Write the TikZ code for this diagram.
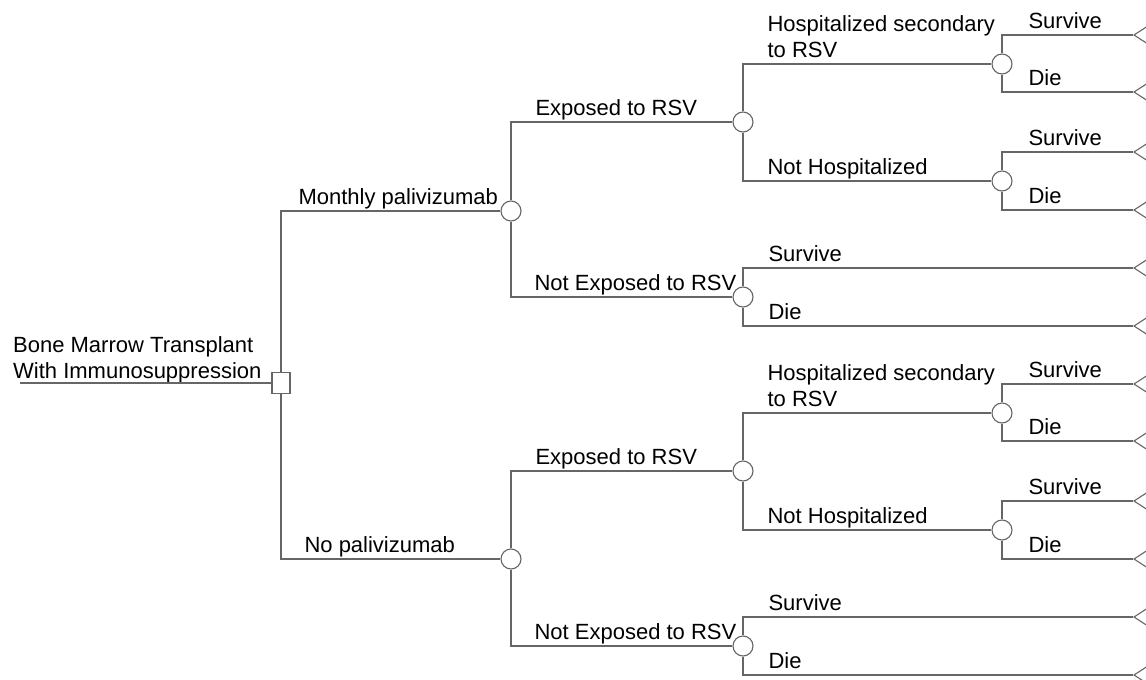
\documentclass[tikz,border=0pt]{standalone}
\usepackage{fontspec}
\setmainfont{Liberation Sans}
\usepackage{tikz}
\usetikzlibrary{shapes.geometric}

\tikzset{
    decision/.style={draw=black!60, fill=white, line width=1.1pt, rectangle, minimum width=18pt, minimum height=21pt, inner sep=0},
    chance/.style={draw=black!60, fill=white, line width=1.1pt, circle, minimum size=20pt, inner sep=0},
    terminal/.style={draw=black!60, fill=white, line width=1.1pt, isosceles triangle, isosceles triangle apex angle=66, shape border rotate=180, minimum height=26pt, inner sep=0, anchor=apex},
    branch/.style={draw=black!60, line width=1.1pt},
    lbl/.style={pos=0.5, anchor=base west, inner sep=0, xshift=#1, yshift=7pt, align=left, font=\fontsize{22}{26}\selectfont},
    lbl/.default=24pt
}

\begin{document}
\begin{tikzpicture}[x=1pt, y=-1pt]
    \useasboundingbox (0,0) rectangle (1146,680);
    \clip (0,0) rectangle (1146,680);

    % Decision node
    \node[decision] (bmt) at (281,383) {};
    \coordinate (in) at (20,383);
    \node[anchor=base west, align=left, inner sep=0, font=\fontsize{22}{26}\selectfont] (bmtlabel) at (13,378) {Bone Marrow Transplant\\With Immunosuppression};

    % Chance nodes: monthly palivizumab
    \node[chance] (mp) at (511,211) {};
    \node[chance] (mpexp) at (743,122) {};
    \node[chance] (mpnoexp) at (743,297) {};
    \node[chance] (mphosp) at (1002,64) {};
    \node[chance] (mpnohosp) at (1002,181) {};

    % Chance nodes: no palivizumab
    \node[chance] (np) at (511,559) {};
    \node[chance] (npexp) at (743,471) {};
    \node[chance] (npnoexp) at (743,646) {};
    \node[chance] (nphosp) at (1002,413) {};
    \node[chance] (npnohosp) at (1002,530) {};

    % Terminal nodes
    \node[terminal] (mphosps) at (1133,35) {};
    \node[terminal] (mphospd) at (1133,92) {};
    \node[terminal] (mpnohosps) at (1133,152) {};
    \node[terminal] (mpnohospd) at (1133,210) {};
    \node[terminal] (mpnoexps) at (1133,268) {};
    \node[terminal] (mpnoexpd) at (1133,326) {};
    \node[terminal] (nphosps) at (1133,384) {};
    \node[terminal] (nphospd) at (1133,441) {};
    \node[terminal] (npnohosps) at (1133,501) {};
    \node[terminal] (npnohospd) at (1133,559) {};
    \node[terminal] (npnoexps) at (1133,617) {};
    \node[terminal] (npnoexpd) at (1133,675) {};

    % Strategy branches
    \draw[branch] (in) -- (bmt);
    \draw[branch] (bmt) |- (mp) node[lbl=17pt] (lmp) {Monthly palivizumab};
    \draw[branch] (bmt) |- (np) node[lbl=23pt] (lnp) {No palivizumab};

    % Exposure branches
    \draw[branch] (mp) |- (mpexp) node[lbl] (lmpexp) {Exposed to RSV};
    \draw[branch] (mp) |- (mpnoexp) node[lbl=23pt] (lmpnoexp) {Not Exposed to RSV};
    \draw[branch] (np) |- (npexp) node[lbl] (lnpexp) {Exposed to RSV};
    \draw[branch] (np) |- (npnoexp) node[lbl=23pt] (lnpnoexp) {Not Exposed to RSV};

    % Hospitalization branches
    \draw[branch] (mpexp) |- (mphosp) node[lbl] (lmphosp) {Hospitalized secondary\\to RSV};
    \draw[branch] (mpexp) |- (mpnohosp) node[lbl] (lmpnohosp) {Not Hospitalized};
    \draw[branch] (npexp) |- (nphosp) node[lbl] (lnphosp) {Hospitalized secondary\\to RSV};
    \draw[branch] (npexp) |- (npnohosp) node[lbl] (lnpnohosp) {Not Hospitalized};

    % Outcomes
    \draw[branch] (mphosp) |- (mphosps) node[lbl=26pt] (lmphosps) {Survive};
    \draw[branch] (mphosp) |- (mphospd) node[lbl=26pt] (lmphospd) {Die};
    \draw[branch] (mpnohosp) |- (mpnohosps) node[lbl=26pt] (lmpnohosps) {Survive};
    \draw[branch] (mpnohosp) |- (mpnohospd) node[lbl=26pt] (lmpnohospd) {Die};
    \draw[branch] (mpnoexp) |- (mpnoexps) node[lbl=25pt] (lmpnoexps) {Survive};
    \draw[branch] (mpnoexp) |- (mpnoexpd) node[lbl=25pt] (lmpnoexpd) {Die};
    \draw[branch] (nphosp) |- (nphosps) node[lbl=26pt] (lnphosps) {Survive};
    \draw[branch] (nphosp) |- (nphospd) node[lbl=26pt] (lnphospd) {Die};
    \draw[branch] (npnohosp) |- (npnohosps) node[lbl=26pt] (lnpnohosps) {Survive};
    \draw[branch] (npnohosp) |- (npnohospd) node[lbl=26pt] (lnpnohospd) {Die};
    \draw[branch] (npnoexp) |- (npnoexps) node[lbl=25pt] (lnpnoexps) {Survive};
    \draw[branch] (npnoexp) |- (npnoexpd) node[lbl=25pt] (lnpnoexpd) {Die};
\end{tikzpicture}
\end{document}
